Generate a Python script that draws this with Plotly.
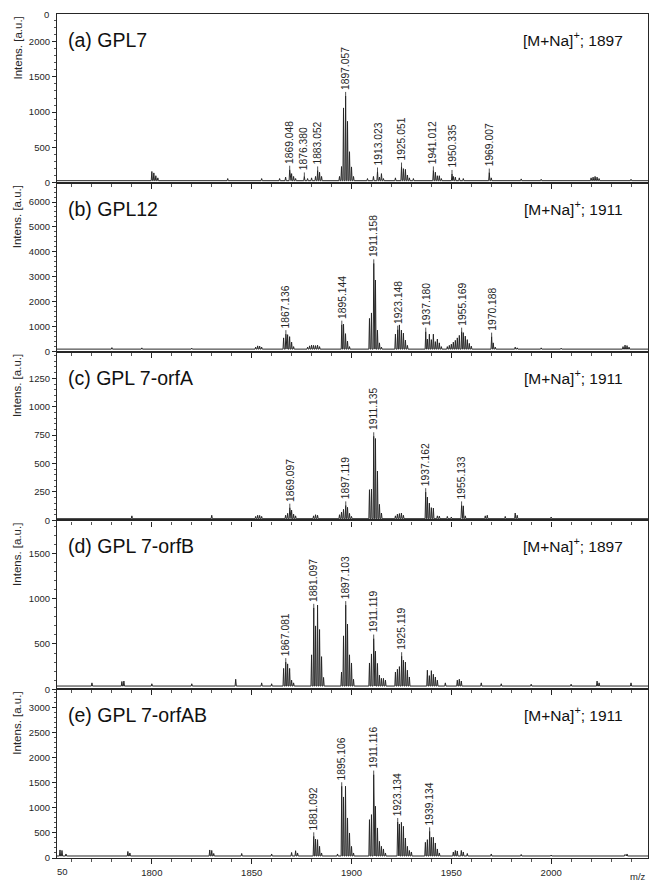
import plotly.graph_objects as go
from plotly.subplots import make_subplots

# ---------------- data (m/z, intensity) ----------------
X_RANGE = [1752.5, 2048.5]
X_TICKS = [1800, 1850, 1900, 1950, 2000]

panel_titles = ["(a) GPL7", "(b) GPL12", "(c) GPL 7-orfA", "(d) GPL 7-orfB", "(e) GPL 7-orfAB"]
panel_ions = ["1897", "1911", "1911", "1897", "1911"]
y_ranges = [2390, 6770, 1485, 1867, 3360]
y_dticks = [500, 1000, 250, 500, 500]
baselines = [30, 100, 15, 35, 40]

a_mz = [1800, 1801, 1802, 1803, 1838, 1855, 1864, 1867, 1869.048, 1870, 1871, 1872,
        1876.380, 1878, 1880, 1882, 1883.052, 1884, 1885, 1894, 1895, 1896, 1897.057,
        1898, 1899, 1900, 1901, 1908, 1911, 1913.023, 1914, 1915, 1916, 1922, 1925.051,
        1926, 1927, 1928, 1929, 1931, 1941.012, 1942, 1943, 1944, 1945, 1950.335, 1951,
        1952, 1954, 1956, 1969.007, 1970, 1985, 1995, 2020, 2021, 2022, 2023, 2024, 2040]
a_int = [160, 140, 100, 70, 60, 60, 60, 80, 185, 130, 90, 60,
         90, 60, 70, 90, 175, 150, 90, 90, 230, 1060, 1230,
         870, 440, 225, 90, 60, 90, 160, 80, 130, 60, 70, 230,
         200, 190, 110, 70, 60, 175, 150, 100, 100, 60, 125, 90,
         80, 70, 60, 145, 70, 55, 50, 70, 80, 90, 80, 60, 50]
a_labels = ["1869.048", "1876.380", "1883.052", "1897.057", "1913.023", "1925.051",
            "1941.012", "1950.335", "1969.007"]

b_mz = [1780, 1795, 1820, 1852, 1853, 1854, 1855, 1866, 1867.136, 1868, 1869, 1870, 1871,
        1878, 1879, 1880, 1881, 1882, 1883, 1884, 1895.144, 1896, 1897, 1898, 1899,
        1909, 1910, 1911.158, 1912, 1913, 1914, 1915, 1922, 1923.148, 1924, 1925, 1926,
        1927, 1928, 1937.180, 1938, 1939, 1940, 1941, 1942, 1943, 1944, 1945, 1948, 1949,
        1950, 1951, 1952, 1953, 1954, 1955.169, 1956, 1957, 1958, 1959, 1960, 1970.188,
        1971, 1972, 1982, 1983, 1995, 2005, 2036, 2037, 2038, 2039]
b_int = [160, 150, 140, 180, 230, 220, 180, 550, 700, 680, 600, 380, 200,
         180, 230, 260, 250, 240, 260, 200, 1080, 1100, 720, 420, 200,
         1330, 1550, 3540, 2870, 860, 350, 180, 700, 880, 1070, 860, 740,
         460, 250, 800, 500, 700, 480, 700, 400, 500, 350, 200, 200, 250,
         300, 380, 450, 550, 650, 800, 760, 620, 480, 330, 220, 600,
         350, 180, 180, 150, 150, 140, 200, 260, 240, 180]
b_labels = ["1867.136", "1895.144", "1911.158", "1923.148", "1937.180", "1955.169", "1970.188"]

c_mz = [1790, 1830, 1852, 1853, 1854, 1855, 1867, 1868, 1869.097, 1870, 1871, 1872,
        1881, 1882, 1883, 1894, 1895, 1896, 1897.119, 1898, 1899, 1900, 1909, 1910,
        1911.135, 1912, 1913, 1914, 1915, 1922, 1923, 1924, 1925, 1926, 1937.162, 1938,
        1939, 1940, 1941, 1943, 1944, 1948, 1950, 1955.133, 1956, 1957, 1967, 1968, 1977,
        1982, 1983, 2000]
c_int = [40, 45, 35, 45, 44, 35, 45, 62, 112, 90, 55, 40,
         40, 50, 45, 50, 73, 97, 132, 115, 62, 35, 270, 275,
         740, 720, 434, 141, 65, 40, 55, 60, 65, 45, 249, 205,
         152, 112, 108, 40, 38, 35, 30, 132, 128, 40, 40, 45, 35,
         65, 45, 30]
c_labels = ["1869.097", "1897.119", "1911.135", "1937.162", "1955.133"]

d_mz = [1770, 1785, 1786, 1800, 1820, 1842, 1855, 1860, 1866, 1867.081, 1868, 1869, 1870,
        1871, 1880, 1881.097, 1882, 1883, 1884, 1885, 1886, 1895, 1896, 1897.103, 1898,
        1899, 1900, 1901, 1909, 1910, 1911.119, 1912, 1913, 1914, 1915, 1916, 1917, 1922,
        1923, 1924, 1925.119, 1926, 1927, 1928, 1929, 1938, 1939, 1940, 1941, 1942, 1943,
        1947, 1953, 1954, 1955, 1965, 1975, 1990, 2010, 2023, 2024, 2040]
d_int = [70, 85, 90, 60, 60, 110, 70, 60, 230, 300, 280, 230, 100,
         70, 380, 900, 700, 930, 660, 360, 130, 190, 590, 930, 720,
         380, 290, 110, 290, 390, 560, 420, 285, 155, 120, 120, 100, 190,
         220, 250, 365, 320, 300, 210, 135, 210, 150, 205, 165, 135, 100,
         70, 100, 110, 90, 70, 60, 55, 55, 90, 70, 70]
d_labels = ["1867.081", "1881.097", "1897.103", "1911.119", "1925.119"]

e_mz = [1754, 1755, 1757, 1788, 1789, 1829, 1830, 1831, 1845, 1860, 1870, 1872, 1873,
        1881.092, 1882, 1883, 1884, 1885, 1893, 1895.106, 1896, 1897, 1898, 1899, 1900,
        1901, 1909, 1910, 1911.116, 1912, 1913, 1914, 1915, 1916, 1917, 1923.134, 1924,
        1925, 1926, 1927, 1928, 1929, 1930, 1937, 1938, 1939.134, 1940, 1941, 1942, 1943,
        1944, 1951, 1952, 1953, 1955, 1956, 1958, 1970, 1985, 2000, 2037, 2038]
e_int = [160, 150, 80, 130, 100, 160, 150, 90, 90, 80, 110, 145, 100,
         432, 378, 365, 232, 100, 80, 1428, 1215, 1428, 797, 498, 231,
         100, 763, 863, 1660, 1030, 598, 332, 232, 180, 100, 717, 677,
         710, 631, 398, 232, 150, 120, 312, 365, 531, 412, 412, 299, 180,
         100, 120, 150, 140, 150, 120, 90, 80, 70, 60, 70, 80]
e_labels = ["1881.092", "1895.106", "1911.116", "1923.134", "1939.134"]

spectra = [(a_mz, a_int, a_labels), (b_mz, b_int, b_labels), (c_mz, c_int, c_labels),
           (d_mz, d_int, d_labels), (e_mz, e_int, e_labels)]

# ---------------- figure ----------------
FONT = "Liberation Sans, Arial, sans-serif"
INK = "#262626"
PLOT_H = 882 - 14 - 24
PANEL_H = PLOT_H / 5
fig = make_subplots(rows=5, cols=1, shared_xaxes=True, vertical_spacing=0)

annotations = []
for i, (mz, inten, labels) in enumerate(spectra):
    row = i + 1
    base = baselines[i]
    per_px = y_ranges[i] / PANEL_H
    pairs = sorted(zip(mz, inten))
    xs, ys = [X_RANGE[0]], [base]
    for m, h in pairs:
        xs += [m - 0.3, m, m + 0.3]
        ys += [base, h, base]
    xs.append(X_RANGE[1])
    ys.append(base)
    fig.add_trace(go.Scatter(x=xs, y=ys, mode="lines",
                             line=dict(color=INK, width=1), hoverinfo="skip",
                             showlegend=False), row=row, col=1)

    # label tick marks above the annotated peaks
    tx, ty = [], []
    sfx = "" if row == 1 else str(row)
    for lab in labels:
        lm = float(lab)
        h = max(v for m, v in pairs if abs(m - lm) < 0.7)
        tx += [lm, lm, None]
        ty += [h, h + 4 * per_px, None]
        annotations.append(dict(x=lm, y=h, xref="x" + sfx, yref="y" + sfx, text=lab,
                                textangle=-90, showarrow=False, yshift=4,
                                xanchor="center", yanchor="bottom",
                                font=dict(family=FONT, size=10.3, color=INK)))
    fig.add_trace(go.Scatter(x=tx, y=ty, mode="lines", line=dict(color=INK, width=0.8),
                             hoverinfo="skip", showlegend=False), row=row, col=1)

    top = 1 - i * 0.2
    annotations.append(dict(x=0.0152, y=top - 26 / PLOT_H, xref="paper", yref="paper",
                            text=panel_titles[i], showarrow=False, xanchor="left", yanchor="middle",
                            font=dict(family=FONT, size=19.5, color="#111")))
    annotations.append(dict(x=0.961, y=top - 25 / PLOT_H, xref="paper", yref="paper",
                            text="[M+Na]<sup>+</sup>; " + panel_ions[i], showarrow=False,
                            xanchor="right", yanchor="middle",
                            font=dict(family=FONT, size=15.5, color="#111")))
    annotations.append(dict(x=(17 - 57) / 591, y=top - 1 / PLOT_H, xref="paper", yref="paper",
                            text="Intens. [a.u.]", textangle=-90, showarrow=False,
                            xanchor="center", yanchor="top",
                            font=dict(family=FONT, size=11.5, color=INK)))

    fig.update_yaxes(row=row, col=1, range=[0, y_ranges[i]],
                     tickmode="linear", tick0=0, dtick=y_dticks[i],
                     ticks="outside", ticklen=4, tickwidth=1, tickcolor=INK,
                     minor=dict(dtick=y_dticks[i] / 5, ticks="outside", ticklen=2, tickcolor="#555"),
                     showline=True, linecolor=INK, linewidth=1.2, mirror=True,
                     showgrid=False, zeroline=False,
                     tickfont=dict(family=FONT, size=9.5, color=INK))
    fig.update_xaxes(row=row, col=1, range=X_RANGE, tickvals=X_TICKS,
                     ticks="outside", ticklen=5, tickwidth=1, tickcolor=INK,
                     minor=dict(dtick=10, tick0=1750, ticks="outside", ticklen=3, tickcolor="#555"),
                     showline=True, linecolor=INK, linewidth=1.2, mirror=True,
                     showgrid=False, zeroline=False, showticklabels=(row == 5),
                     tickfont=dict(family=FONT, size=9.5, color=INK))

# extra texts along the edges
annotations.append(dict(x=(46 - 57) / 591, y=1, xref="paper", yref="paper", text="0",
                        showarrow=False, xanchor="center", yanchor="middle",
                        font=dict(family=FONT, size=9.5, color=INK)))
annotations.append(dict(x=1755.3, y=0, xref="x5", yref="paper", text="50", yshift=-13.7,
                        showarrow=False, xanchor="center", yanchor="middle",
                        font=dict(family=FONT, size=9.5, color=INK)))
annotations.append(dict(x=1, y=0, xref="paper", yref="paper", text="m/z", yshift=-18,
                        showarrow=False, xanchor="right", yanchor="middle",
                        font=dict(family=FONT, size=9.5, color=INK)))

fig.update_layout(width=649, height=882, margin=dict(l=57, r=1, t=14, b=24),
                  paper_bgcolor="white", plot_bgcolor="white",
                  annotations=annotations, showlegend=False)

fig.write_html("out.html", config={"displayModeBar": False},
               post_script="document.body.style.margin='0';document.body.style.padding='0';"
                           "document.body.style.overflow='hidden';")
